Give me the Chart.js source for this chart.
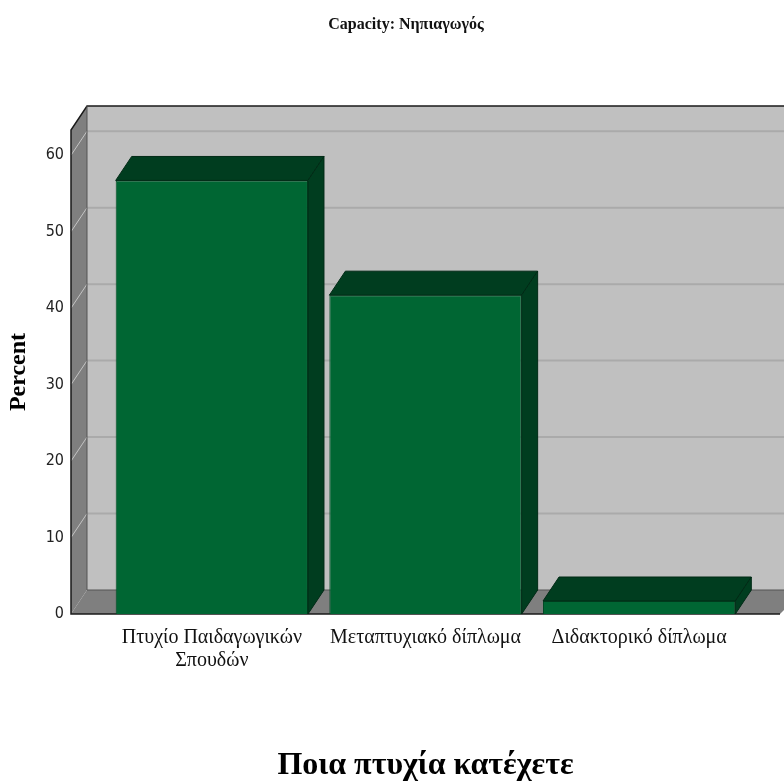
<!DOCTYPE html>
<html>
<head>
<meta charset="utf-8">
<title>Capacity: Νηπιαγωγός</title>
<script src="https://cdn.jsdelivr.net/npm/chart.js@4/dist/chart.umd.min.js"></script>
<style>
  html, body { margin: 0; padding: 0; background: #fff; }
  #wrap { width: 784px; height: 782px; }
</style>
</head>
<body>
<div id="wrap"><canvas id="degreeChart"></canvas></div>
<script>
const chartTitle = 'Capacity: Νηπιαγωγός';
const categories = [['Πτυχίο Παιδαγωγικών', 'Σπουδών'], 'Μεταπτυχιακό δίπλωμα', 'Διδακτορικό δίπλωμα'];
const percents = [56.7, 41.7, 1.7];
const yTicks = [0, 10, 20, 30, 40, 50, 60];
const yMax = 63.3;

// depth of the fake 3d box
const DX = 16, DY = 24;

const box3d = {
  id: 'box3d',
  beforeDatasetsDraw(chart) {
    const { ctx, chartArea: a, scales: { y } } = chart;
    const W = chart.width;
    const fx = a.left - 34;          // front edge of the left wall
    const bx = fx + DX;              // back edge of the left wall
    const top = a.top, bot = a.bottom;
    ctx.save();
    // back wall
    ctx.fillStyle = '#c0c0c0';
    ctx.fillRect(bx, top - DY, W - bx, bot - top);
    // back wall grid
    ctx.strokeStyle = '#aaaaaa';
    ctx.lineWidth = 2;
    yTicks.forEach(v => {
      if (v === 0) return;
      const py = y.getPixelForValue(v) - DY;
      ctx.beginPath(); ctx.moveTo(bx, py); ctx.lineTo(W, py); ctx.stroke();
    });
    // left wall
    ctx.fillStyle = '#7f7f7f';
    ctx.beginPath();
    ctx.moveTo(fx, top); ctx.lineTo(bx, top - DY); ctx.lineTo(bx, bot - DY); ctx.lineTo(fx, bot);
    ctx.closePath(); ctx.fill();
    ctx.strokeStyle = '#c4c4c4';
    ctx.lineWidth = 1;
    yTicks.forEach(v => {
      if (v === 0) return;
      const py = y.getPixelForValue(v);
      ctx.beginPath(); ctx.moveTo(fx, py); ctx.lineTo(bx, py - DY); ctx.stroke();
    });
    // floor
    ctx.fillStyle = '#7f7f7f';
    ctx.beginPath();
    ctx.moveTo(fx, bot); ctx.lineTo(bx, bot - DY); ctx.lineTo(W + 20, bot - DY); ctx.lineTo(W - 4, bot);
    ctx.closePath(); ctx.fill();
    // outlines
    ctx.strokeStyle = '#1a1a1a';
    ctx.lineWidth = 1.5;
    ctx.beginPath();
    ctx.moveTo(W, top - DY); ctx.lineTo(bx, top - DY); ctx.lineTo(fx, top); ctx.lineTo(fx, bot); ctx.lineTo(W - 4, bot);
    ctx.stroke();
    ctx.strokeStyle = '#555';
    ctx.lineWidth = 1;
    ctx.beginPath();
    ctx.moveTo(bx, top - DY); ctx.lineTo(bx, bot - DY); ctx.lineTo(W, bot - DY);
    ctx.stroke();
    // chart title
    ctx.fillStyle = '#111';
    ctx.font = 'bold 16px "Liberation Serif", "DejaVu Serif", serif';
    ctx.textAlign = 'center';
    ctx.textBaseline = 'middle';
    ctx.fillText(chartTitle, 406, 25);
    ctx.restore();
  },
  afterDatasetsDraw(chart) {
    const { ctx } = chart;
    ctx.save();
    chart.getDatasetMeta(0).data.forEach(bar => {
      const l = bar.x - bar.width / 2, r = bar.x + bar.width / 2;
      const t = bar.y, b = bar.base;
      ctx.fillStyle = '#003d1f';
      ctx.strokeStyle = '#002a15';
      ctx.lineWidth = 1;
      // top face
      ctx.beginPath();
      ctx.moveTo(l, t); ctx.lineTo(l + DX, t - DY); ctx.lineTo(r + DX, t - DY); ctx.lineTo(r, t);
      ctx.closePath(); ctx.fill(); ctx.stroke();
      // side face
      ctx.beginPath();
      ctx.moveTo(r, t); ctx.lineTo(r + DX, t - DY); ctx.lineTo(r + DX, b - DY); ctx.lineTo(r, b);
      ctx.closePath(); ctx.fill(); ctx.stroke();
    });
    ctx.restore();
  }
};

const ctx = document.getElementById('degreeChart').getContext('2d');

new Chart(ctx, {
  type: 'bar',
  data: {
    labels: categories,
    datasets: [{
      label: 'Percent',
      data: percents,
      backgroundColor: '#006633',
      borderColor: '#004a24',
      borderWidth: 1,
      categoryPercentage: 0.9,
      barPercentage: 1
    }]
  },
  options: {
    responsive: true,
    maintainAspectRatio: false,
    animation: false,
    layout: { padding: { top: 130, left: 0, right: 38, bottom: 0 } },
    plugins: {
      legend: { display: false },
      tooltip: { enabled: false }
    },
    scales: {
      x: {
        grid: { display: false, drawTicks: false },
        border: { display: false },
        ticks: {
          color: '#111',
          padding: 12,
          maxRotation: 0,
          autoSkip: false,
          font: { family: '"Liberation Serif", "DejaVu Serif", serif', size: 20, lineHeight: 1.15 }
        },
        title: {
          display: true,
          text: 'Ποια πτυχία κατέχετε',
          color: '#000',
          padding: { top: 0, bottom: 0 },
          font: { family: '"Liberation Serif", "DejaVu Serif", serif', size: 32, weight: 'bold', lineHeight: 1 }
        },
        afterFit: scale => { scale.height = 168; }
      },
      y: {
        min: 0,
        max: yMax,
        grid: { display: false, drawTicks: false },
        border: { display: false },
        afterBuildTicks: scale => { scale.ticks = yTicks.map(v => ({ value: v })); },
        ticks: {
          color: '#222',
          padding: 41,
          font: { family: '"Liberation Sans Narrow", "DejaVu Sans Condensed", "Liberation Sans", sans-serif', size: 16 }
        },
        title: {
          display: true,
          text: 'Percent',
          color: '#000',
          padding: { top: 7, bottom: 0 },
          font: { family: '"Liberation Serif", "DejaVu Serif", serif', size: 24, weight: 'bold', lineHeight: 1 }
        },
        afterFit: scale => { scale.width = 105; }
      }
    }
  },
  plugins: [box3d]
});
</script>
</body>
</html>
